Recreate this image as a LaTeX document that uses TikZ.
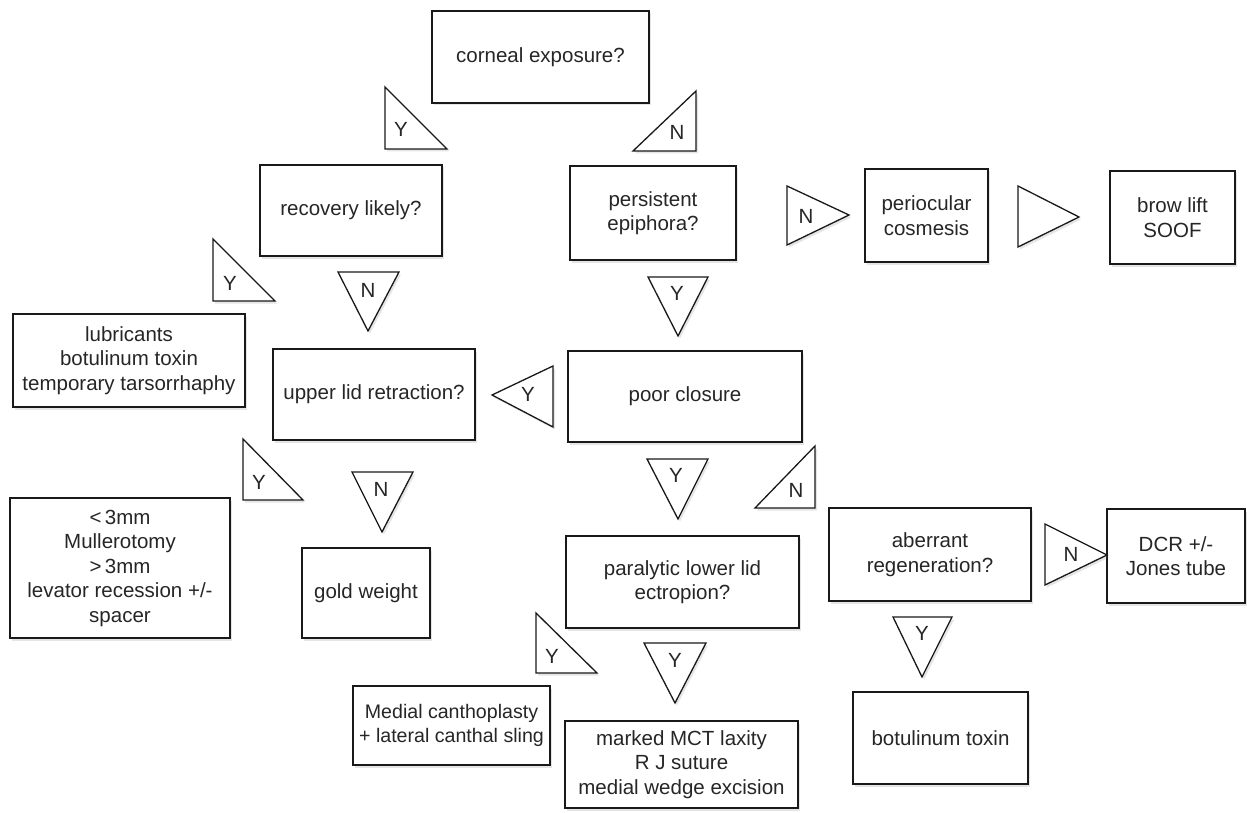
\documentclass[tikz,border=0pt]{standalone}
\usepackage{fontspec}
\setmainfont{Liberation Sans}
\usetikzlibrary{shadows}
\tikzset{
  softshadow/.style={drop shadow={opacity=0.2, shadow xshift=2pt, shadow yshift=-2.5pt}},
  box/.style={draw=black!90, fill=white, line width=1.3pt, inner sep=0pt, align=center,
    font=\fontsize{20.5}{24.5}\selectfont, text=black!85, softshadow},
  tri/.style={draw=black!90, fill=white, line width=1.3pt, line join=miter, softshadow},
  lab/.style={inner sep=0pt, font=\fontsize{20.5}{24}\selectfont, text=black!85}
}
\newcommand\flowbox[7][]{%
  \node[box, minimum width={#5-#3}, minimum height={#6-#4}, #1] (#2) at ({(#3+#5)/2},{(#4+#6)/2}) {#7};}
\begin{document}
\begin{tikzpicture}[x=1pt,y=-1pt]
\useasboundingbox[fill=white] (0,0) rectangle (1247,813);
% boxes
\flowbox{corneal}{432}{11}{649}{103}{corneal exposure?}
\flowbox{recovery}{260}{165}{442}{256}{recovery likely?}
\flowbox{persistent}{570}{166}{736}{260}{persistent\\epiphora?}
\flowbox{periocular}{865}{169}{988}{262}{periocular\\cosmesis}
\flowbox{brow}{1110}{171}{1235}{264}{brow lift\\SOOF}
\flowbox{lubricants}{13}{314}{245}{407}{lubricants\\botulinum toxin\\temporary tarsorrhaphy}
\flowbox{upperlid}{273}{349}{475}{440}{upper lid retraction?}
\flowbox{poor}{568}{351}{802}{442}{poor closure}
\flowbox{mm}{10}{498}{230}{638}{<\,3mm\\Mullerotomy\\>\,3mm\\levator recession +/-\\spacer}
\flowbox{gold}{302}{548}{430}{638}{gold weight}
\flowbox{paralytic}{566}{536}{799}{628}{paralytic lower lid\\ectropion?}
\flowbox{aberrant}{829}{508}{1031}{601}{aberrant\\regeneration?}
\flowbox{dcr}{1107}{509}{1245}{603}{DCR +/-\\Jones tube}
\flowbox[font=\fontsize{19.6}{24.5}\selectfont]{medial}{353}{686}{550}{765}{Medial canthoplasty\\+ lateral canthal sling}
\flowbox{marked}{565}{721}{798}{808}{marked MCT laxity\\R J suture\\medial wedge excision}
\flowbox{botox}{853}{692}{1028}{784}{botulinum toxin}
% triangles
\draw[tri] (385,87) -- (385,149) -- (447,149) -- cycle;
\node[lab] (t1) at (401,129) {Y};
\draw[tri] (696,91) -- (696,151) -- (633,151) -- cycle;
\node[lab] (t2) at (677,132) {N};
\draw[tri] (213,239) -- (213,301) -- (275,301) -- cycle;
\node[lab] (t3) at (230,283) {Y};
\draw[tri] (338,272) -- (399,272) -- (368,331) -- cycle;
\node[lab] (t4) at (368,290) {N};
\draw[tri] (492,395) -- (553,366) -- (553,427) -- cycle;
\node[lab] (t5) at (528,394) {Y};
\draw[tri] (648,277) -- (708,277) -- (678,336) -- cycle;
\node[lab] (t6) at (677,293) {Y};
\draw[tri] (787,186) -- (787,245) -- (849,215) -- cycle;
\node[lab] (t7) at (806,216) {N};
\draw[tri] (1018,186) -- (1018,247) -- (1079,217) -- cycle;
\draw[tri] (647,459) -- (708,459) -- (678,519) -- cycle;
\node[lab] (t9) at (676,475) {Y};
\draw[tri] (815,446) -- (815,508) -- (755,508) -- cycle;
\node[lab] (t10) at (796,490) {N};
\draw[tri] (243,439) -- (243,500) -- (303,500) -- cycle;
\node[lab] (t11) at (259,482) {Y};
\draw[tri] (352,472) -- (413,472) -- (382,532) -- cycle;
\node[lab] (t12) at (381,489) {N};
\draw[tri] (536,613) -- (536,673) -- (597,673) -- cycle;
\node[lab] (t13) at (552,656) {Y};
\draw[tri] (644,643) -- (706,643) -- (675,703) -- cycle;
\node[lab] (t14) at (675,660) {Y};
\draw[tri] (1045,524) -- (1045,585) -- (1107,555) -- cycle;
\node[lab] (t15) at (1071,554) {N};
\draw[tri] (893,617) -- (952,617) -- (922,677) -- cycle;
\node[lab] (t16) at (922,633) {Y};
\end{tikzpicture}
\end{document}
